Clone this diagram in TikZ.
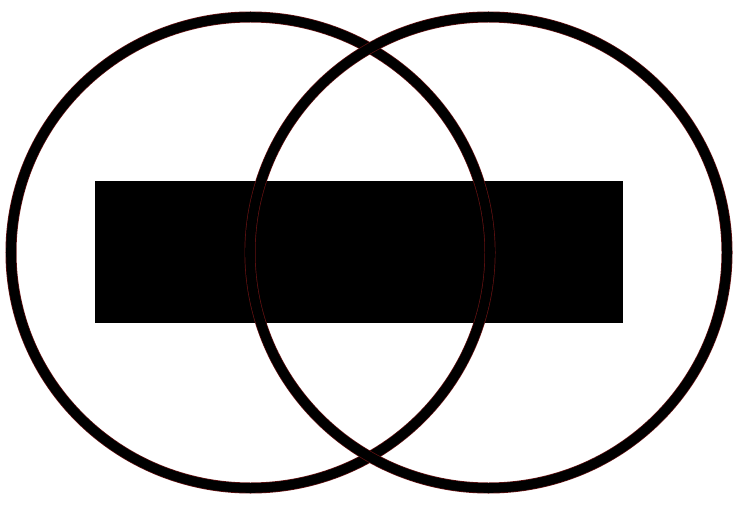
\documentclass[tikz,border=0pt]{standalone}
\usepackage{tikz}
\definecolor{rimred}{RGB}{100,18,18}
\begin{document}
\begin{tikzpicture}[x=1pt,y=-1pt,
    ring/.style={draw=rimred,line width=0.7pt,double=black,double distance=9.6pt}]
    \useasboundingbox (0,0) rectangle (736,505);
    % Bar
    \fill[black] (95,181) rectangle (623,323);
    % Two rings
    \draw[ring] (250.5,252.5) ellipse [x radius=239.5, y radius=235.5];
    \draw[ring] (488.5,252.5) ellipse [x radius=238.5, y radius=235.5];
  \end{tikzpicture}
\end{document}
